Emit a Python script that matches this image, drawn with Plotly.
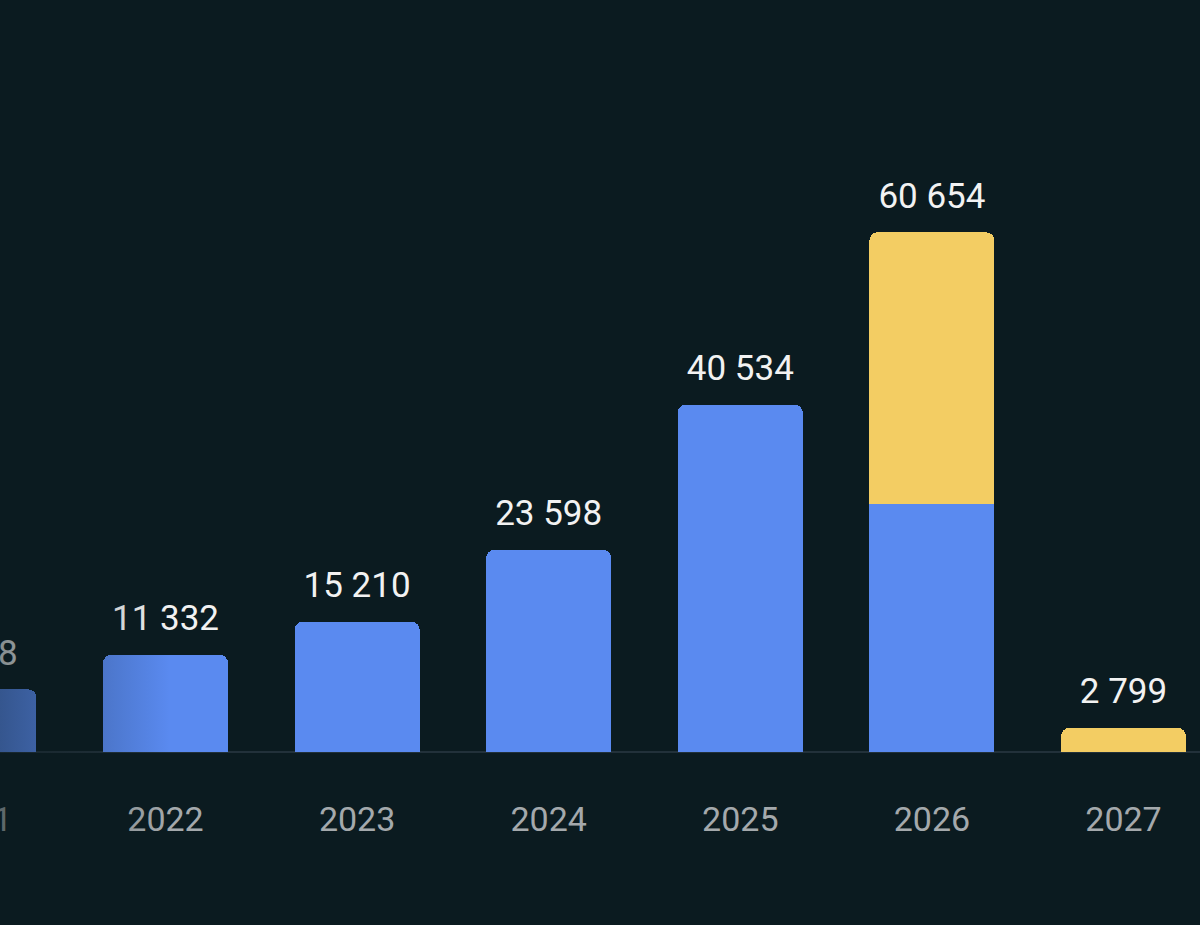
import base64
import plotly.graph_objects as go

years = [2021, 2022, 2023, 2024, 2025, 2026, 2027]
blue_values = [7318, 11332, 15210, 23598, 40534, 28950, 0]
yellow_values = [0, 0, 0, 0, 0, 31704, 2799]
year_labels = [str(y) for y in years]
totals = [b + y for b, y in zip(blue_values, yellow_values)]

BG = "#0b1b20"
BLUE = "#5a8af0"
YELLOW = "#f3cd63"

# axis mapping constants (layout, not data)
PX_PER_UNIT = 0.008568
BASE_PX = 752
H = 925
W = 1200
X0 = 2021.1362
X1 = X0 + W / 191.6
YMAX = BASE_PX / PX_PER_UNIT
YMIN = -(H - BASE_PX) / PX_PER_UNIT
YEAR_LABEL_Y = -70 / PX_PER_UNIT

fig = go.Figure()
fig.add_trace(go.Bar(x=years, y=blue_values, marker=dict(color=BLUE, line=dict(width=0)),
                     width=0.652, hoverinfo="skip"))
fig.add_trace(go.Bar(x=years, y=yellow_values, marker=dict(color=YELLOW, line=dict(width=0)),
                     width=0.652, hoverinfo="skip"))

# value labels above bars
fig.add_trace(go.Scatter(
    x=years, y=totals, mode="markers+text",
    text=[f"{t:,}".replace(",", " ") for t in totals],
    textposition="top center",
    textfont=dict(family="Roboto", size=35, color="#f2f2f2"),
    marker=dict(size=24, opacity=0),
    hoverinfo="skip",
))

# year labels
fig.add_trace(go.Scatter(
    x=years, y=[YEAR_LABEL_Y] * len(years), mode="text",
    text=year_labels, textposition="middle center",
    textfont=dict(family="Roboto", size=34, color="#a4a9ac"),
    hoverinfo="skip",
))

# left-edge fade overlay as an SVG gradient image
FADE_W = 170
svg = (
    '<svg xmlns="http://www.w3.org/2000/svg" width="%d" height="%d" preserveAspectRatio="none">'
    '<defs><linearGradient id="g" x1="0" y1="0" x2="1" y2="0">'
    '<stop offset="0" stop-color="%s" stop-opacity="0.47"/>'
    '<stop offset="1" stop-color="%s" stop-opacity="0"/>'
    '</linearGradient></defs>'
    '<rect width="100%%" height="100%%" fill="url(#g)"/></svg>'
) % (FADE_W, H, BG, BG)
src = "data:image/svg+xml;base64," + base64.b64encode(svg.encode()).decode()

fig.update_layout(
    width=W, height=H,
    margin=dict(l=0, r=0, t=0, b=0),
    paper_bgcolor=BG, plot_bgcolor=BG,
    barmode="stack", barcornerradius=8,
    showlegend=False,
    font=dict(family="Roboto"),
    images=[dict(source=src, xref="paper", yref="paper", x=0, y=1,
                 sizex=FADE_W / W, sizey=1, sizing="stretch",
                 xanchor="left", yanchor="top", layer="above")],
    xaxis=dict(range=[X0, X1], showgrid=False, zeroline=False, showticklabels=False,
               showline=False, ticks=""),
    yaxis=dict(range=[YMIN, YMAX], showgrid=False, zeroline=True, zerolinecolor="#22313a",
               zerolinewidth=2, showticklabels=False, showline=False, ticks=""),
)

fig.write_html("out.html", config={"displayModeBar": False},
               post_script="document.body.style.margin='0';document.body.style.background='%s';" % BG)
